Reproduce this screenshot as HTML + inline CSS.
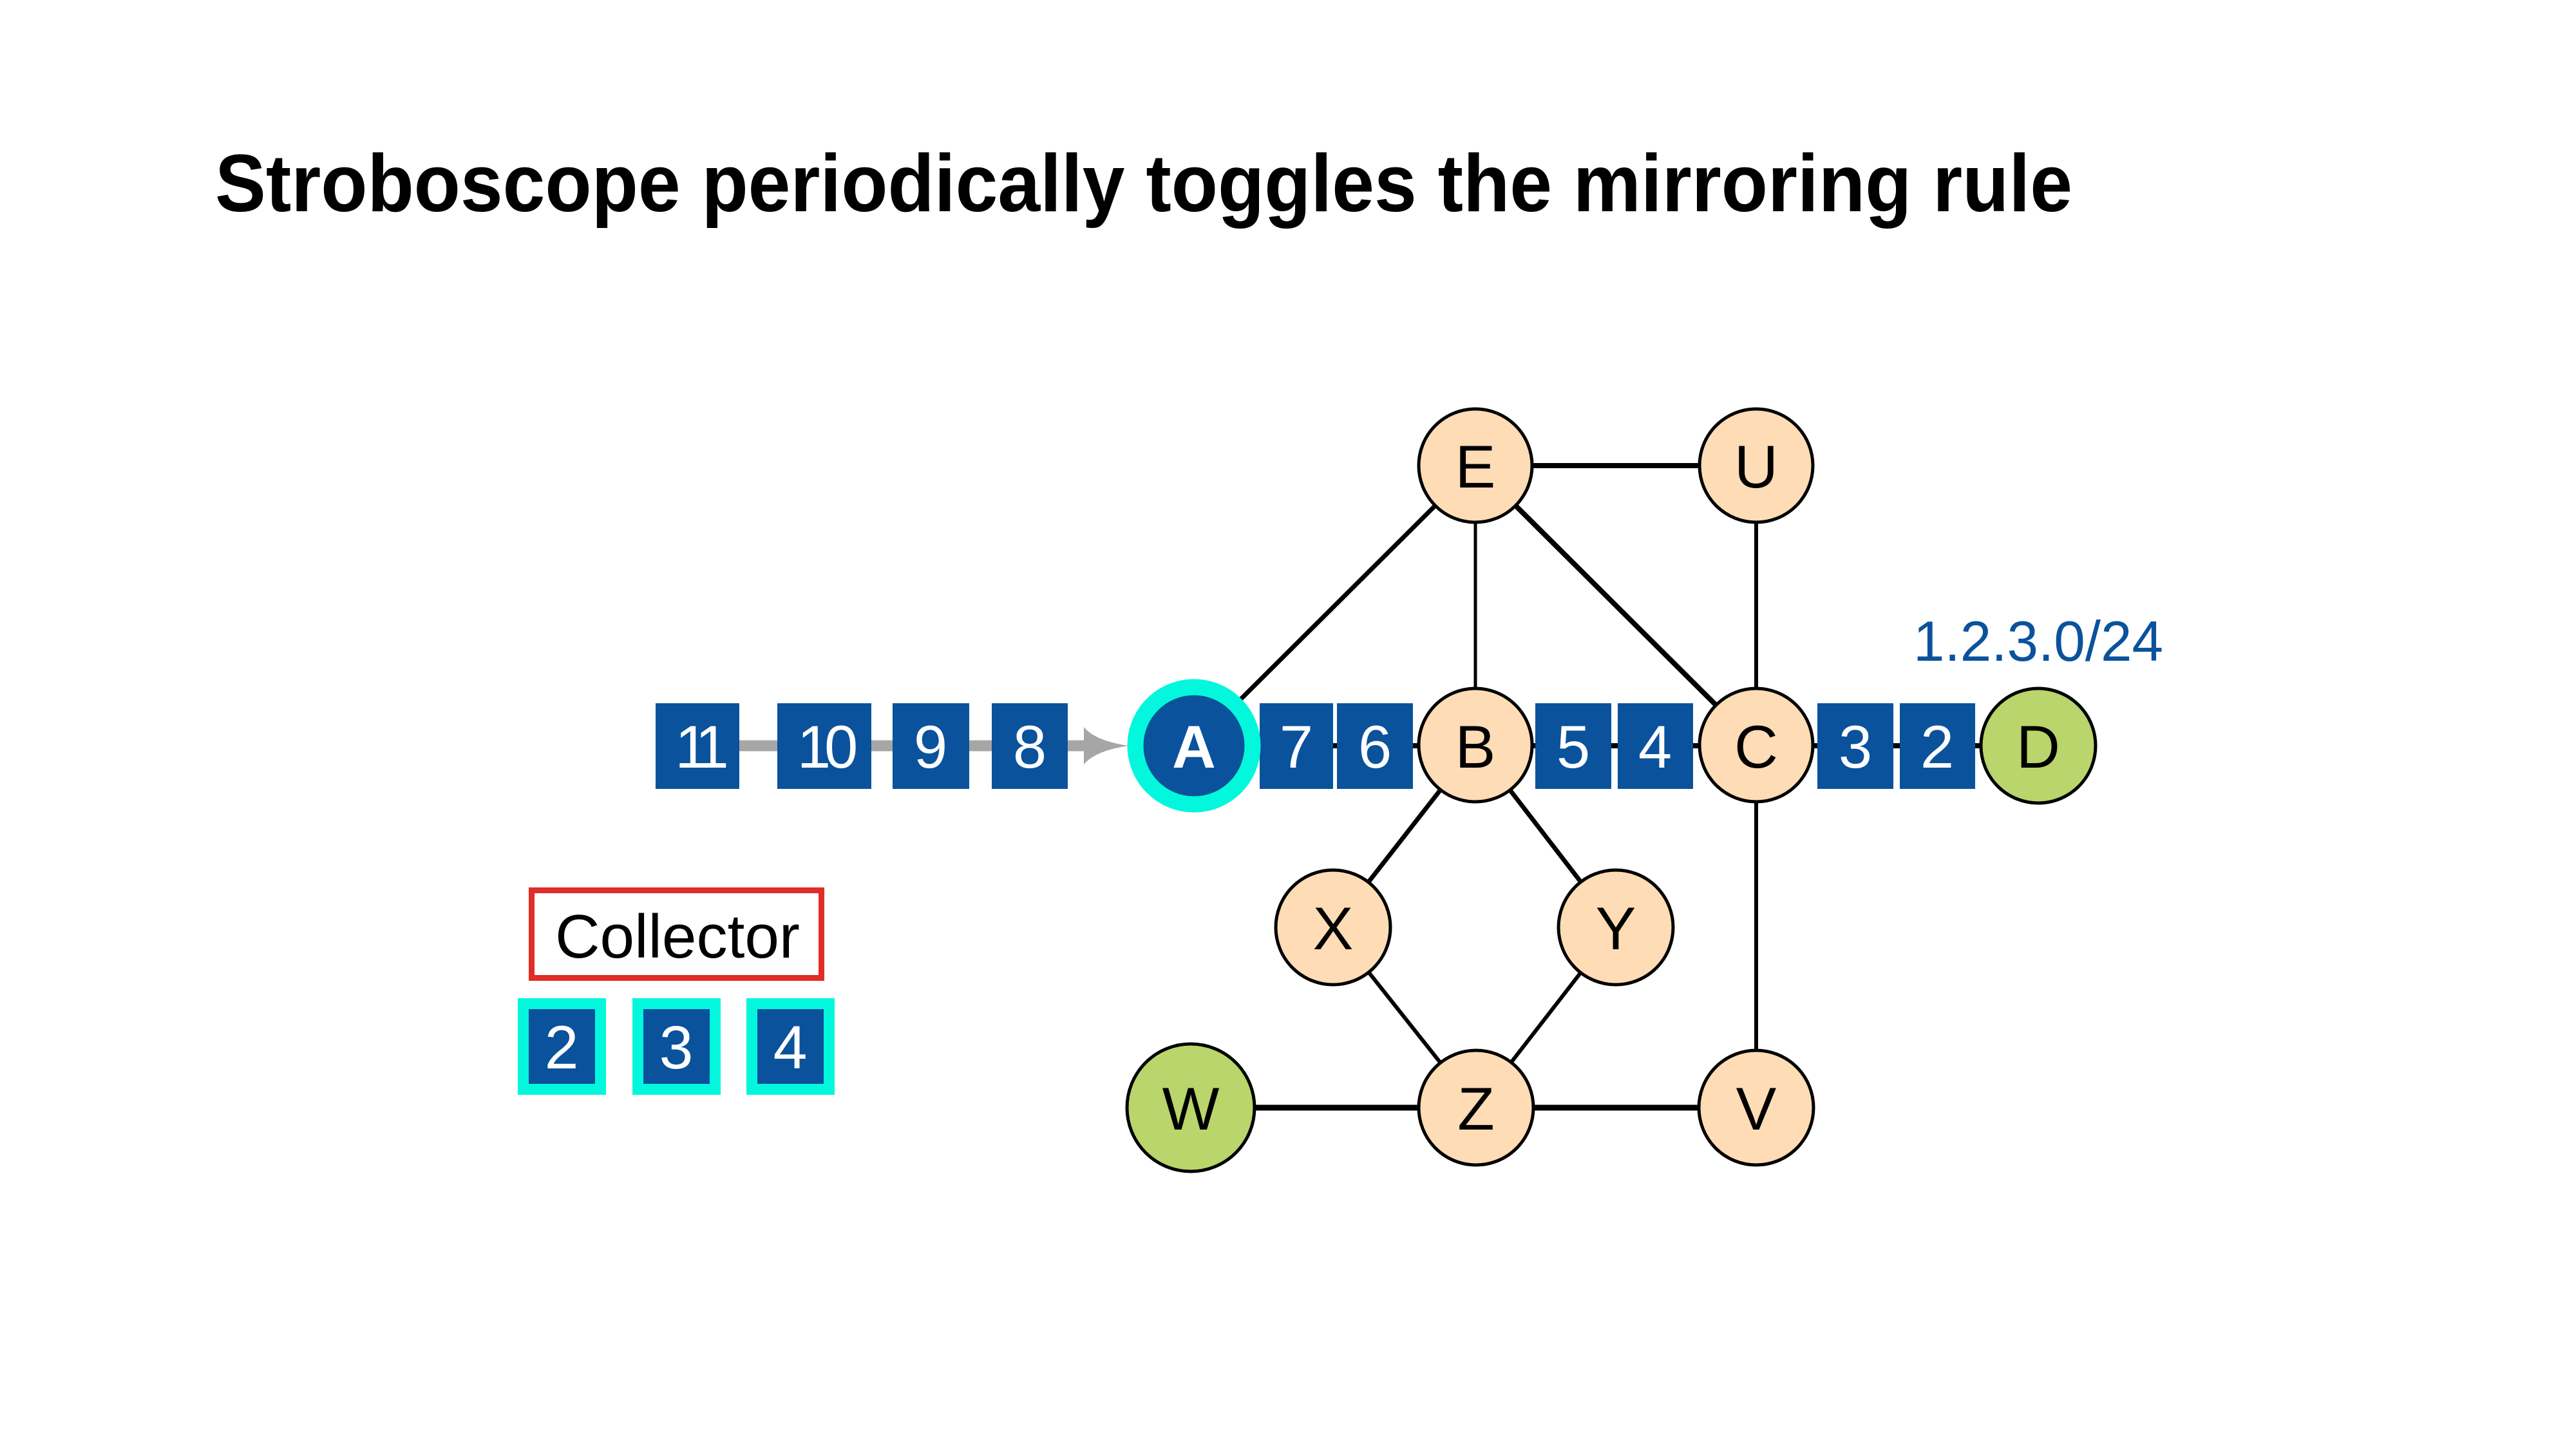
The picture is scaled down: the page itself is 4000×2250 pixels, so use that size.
<!DOCTYPE html>
<html><head><meta charset="utf-8"><style>html,body{margin:0;padding:0;background:#fff}svg{display:block}</style></head>
<body>
<svg width="4000" height="2250" viewBox="0 0 4000 2250" xmlns="http://www.w3.org/2000/svg" font-family="Liberation Sans, sans-serif">
<rect width="4000" height="2250" fill="#fff"/>
<text x="334" y="328" font-size="126" font-weight="bold" textLength="2884" lengthAdjust="spacingAndGlyphs">Stroboscope periodically toggles the mirroring rule</text>

<!-- gray arrow -->
<line x1="1148" y1="1158" x2="1690" y2="1158" stroke="#a6a6a6" stroke-width="17"/>
<path d="M1683 1129 Q1700 1150 1752 1158 Q1700 1166 1683 1187 Z" fill="#a6a6a6"/>

<!-- edges -->
<g stroke="#000" stroke-width="7" fill="none">
<line x1="1854" y1="1158" x2="2291" y2="723"/>
<line x1="2291" y1="723" x2="2291" y2="1157" stroke-width="5"/>
<line x1="2291" y1="723" x2="2727" y2="1157" stroke-width="8"/>
<line x1="2291" y1="723" x2="2727" y2="723" stroke-width="8"/>
<line x1="2727" y1="723" x2="2727" y2="1157" stroke-width="6"/>
<line x1="1854" y1="1158" x2="3165" y2="1158" stroke-width="8"/>
<line x1="2291" y1="1157" x2="2070" y2="1440"/>
<line x1="2291" y1="1157" x2="2509" y2="1440"/>
<line x1="2070" y1="1440" x2="2292" y2="1720" stroke-width="6"/>
<line x1="2509" y1="1440" x2="2292" y2="1720" stroke-width="6"/>
<line x1="2727" y1="1157" x2="2727" y2="1720" stroke-width="6"/>
<line x1="1849" y1="1720" x2="2727" y2="1720" stroke-width="9"/>
</g>

<!-- packets -->
<g fill="#0a529c">
<rect x="1018" y="1092" width="130" height="133"/>
<rect x="1207" y="1092" width="146" height="133"/>
<rect x="1386" y="1092" width="119" height="133"/>
<rect x="1540" y="1092" width="118" height="133"/>
<rect x="1956" y="1092" width="114" height="133"/>
<rect x="2076" y="1092" width="118" height="133"/>
<rect x="2384" y="1092" width="118" height="133"/>
<rect x="2512" y="1092" width="117" height="133"/>
<rect x="2822" y="1092" width="118" height="133"/>
<rect x="2950" y="1092" width="117" height="133"/>
</g>
<g fill="#fff" font-size="94" text-anchor="middle">
<text x="1083" y="1192" letter-spacing="-14">11</text>
<text x="1280" y="1192" letter-spacing="-10">10</text>
<text x="1445" y="1192">9</text>
<text x="1599" y="1192">8</text>
<text x="2013" y="1192">7</text>
<text x="2135" y="1192">6</text>
<text x="2443" y="1192">5</text>
<text x="2570" y="1192">4</text>
<text x="2881" y="1192">3</text>
<text x="3008" y="1192">2</text>
</g>

<!-- nodes -->
<g stroke="#000" stroke-width="5" fill="#fddcb6">
<circle cx="2291" cy="723" r="88"/>
<circle cx="2727" cy="723" r="88"/>
<circle cx="2291" cy="1157" r="88"/>
<circle cx="2727" cy="1157" r="88"/>
<circle cx="2070" cy="1440" r="89"/>
<circle cx="2509" cy="1440" r="89"/>
<circle cx="2292" cy="1720" r="89"/>
<circle cx="2727" cy="1720" r="89"/>
<circle cx="3165" cy="1158" r="89" fill="#b9d56b"/>
<circle cx="1849" cy="1720" r="99" fill="#b9d56b"/>
</g>
<circle cx="1854" cy="1158" r="91" fill="#0a529c" stroke="#03f7dc" stroke-width="25"/>

<g font-size="94" text-anchor="middle" fill="#000">
<text x="2291" y="757">E</text>
<text x="2727" y="757">U</text>
<text x="2291" y="1192">B</text>
<text x="2727" y="1192">C</text>
<text x="3165" y="1192">D</text>
<text x="2070" y="1474">X</text>
<text x="2509" y="1474">Y</text>
<text x="2292" y="1754">Z</text>
<text x="2727" y="1754">V</text>
<text x="1849" y="1754">W</text>
<text x="1854" y="1192" fill="#fff" font-weight="bold">A</text>
</g>

<text x="2971" y="1026" font-size="88" fill="#0a529c" textLength="388" lengthAdjust="spacingAndGlyphs">1.2.3.0/24</text>

<!-- collector -->
<rect x="825.5" y="1382.5" width="450" height="136" fill="#fff" stroke="#e02d27" stroke-width="9"/>
<text x="862" y="1487" font-size="96" textLength="380" lengthAdjust="spacingAndGlyphs">Collector</text>
<g fill="#0a529c" stroke="#03f7dc" stroke-width="17">
<rect x="812.5" y="1558.5" width="120" height="133"/>
<rect x="990.5" y="1558.5" width="120" height="133"/>
<rect x="1167.5" y="1558.5" width="120" height="133"/>
</g>
<g fill="#fff" font-size="95" text-anchor="middle">
<text x="872" y="1659">2</text>
<text x="1050" y="1659">3</text>
<text x="1227" y="1659">4</text>
</g>
</svg>
</body></html>
